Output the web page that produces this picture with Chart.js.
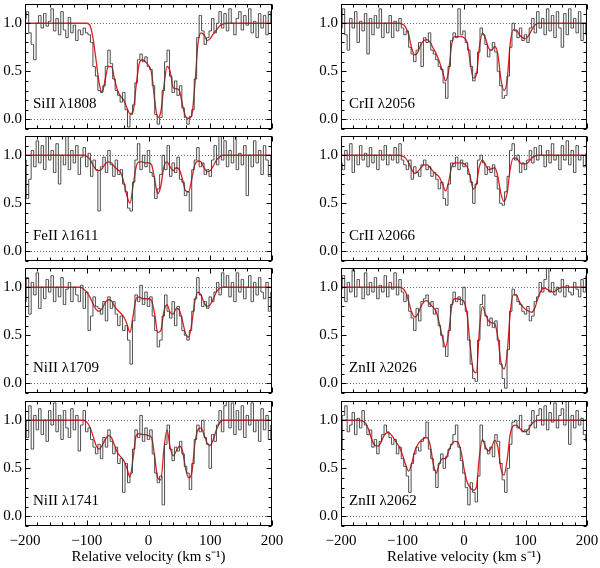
<!DOCTYPE html>
<html>
<head>
<meta charset="utf-8">
<script src="https://cdn.jsdelivr.net/npm/chart.js@4.4.0/dist/chart.umd.min.js"></script>
<style>
body { margin: 0; background: #fff; }
#wrap { position: relative; width: 600px; height: 568px; }
#wrap canvas { position: absolute; }
</style>
</head>
<body>
<div id="wrap"></div>
<script>
// pixel velocities of the spectra (km/s)
const velocity = [
  -200,-196,-192,-188,-184,-180,-176,-172,-168,-164,
  -160,-156,-152,-148,-144,-140,-136,-132,-128,-124,
  -120,-116,-112,-108,-104,-100,-96,-92,-88,-84,
  -80,-76,-72,-68,-64,-60,-56,-52,-48,-44,
  -40,-36,-32,-28,-24,-20,-16,-12,-8,-4,
  0,4,8,12,16,20,24,28,32,36,
  40,44,48,52,56,60,64,68,72,76,
  80,84,88,92,96,100,104,108,112,116,
  120,124,128,132,136,140,144,148,152,156,
  160,164,168,172,176,180,184,188,192,196,
  200
];
// velocities of the fitted profiles (km/s)
const fitVelocity = [
  -200,-195,-190,-185,-180,-175,-170,-165,-160,-155,
  -150,-145,-140,-135,-130,-125,-120,-115,-110,-105,
  -100,-95,-90,-85,-80,-75,-70,-65,-60,-55,
  -50,-45,-40,-35,-30,-25,-20,-15,-10,-5,
  0,5,10,15,20,25,30,35,40,45,
  50,55,60,65,70,75,80,85,90,95,
  100,105,110,115,120,125,130,135,140,145,
  150,155,160,165,170,175,180,185,190,195,
  200
];

// normalised flux
const fluxSiII1808 = [
  1.05,1.12,0.9,0.78,0.62,1.0,1.08,0.95,1.1,0.97,
  1.02,1.15,0.92,1.05,0.88,1.12,0.93,0.85,1.06,0.9,
  0.98,0.82,0.93,0.88,0.95,0.9,0.88,0.8,0.55,0.45,
  0.3,0.28,0.35,0.55,0.72,0.58,0.42,0.3,0.25,0.18,
  0.28,0.1,-0.08,0.05,0.15,0.38,0.62,0.68,0.6,0.65,
  0.55,0.52,0.35,0.05,-0.05,0.02,0.3,0.6,0.72,0.45,
  0.28,0.4,0.25,0.35,0.12,0.02,-0.05,0.03,0.1,0.42,
  0.85,1.08,0.92,0.78,0.85,0.92,1.05,0.9,1.0,1.12,
  0.95,1.1,0.92,1.15,1.0,0.88,1.05,1.12,0.93,1.08,
  0.98,1.15,0.9,1.02,0.85,1.1,0.95,1.08,0.88,1.12,
  1.0
];
const fluxFeII1611 = [
  0.95,0.55,0.75,1.05,0.88,1.15,0.92,1.1,0.85,1.25,
  0.95,1.05,0.82,1.12,0.7,1.0,0.9,1.22,0.85,1.05,
  0.92,1.1,0.8,0.98,1.08,0.88,1.02,0.78,0.95,0.85,
  0.42,0.88,0.98,0.82,1.05,0.9,0.78,0.95,0.8,0.85,
  0.7,0.62,0.45,0.42,0.72,0.95,1.12,0.85,1.0,0.88,
  1.05,0.82,0.78,0.55,0.65,0.8,1.0,0.85,1.1,0.78,
  0.92,0.82,0.98,0.75,0.72,0.58,0.62,0.42,0.85,0.95,
  1.08,0.88,0.92,0.8,0.85,0.78,0.95,1.1,0.9,1.22,
  0.95,1.15,0.88,1.05,0.92,1.25,0.85,1.02,0.9,1.1,
  0.58,1.0,0.88,1.15,0.92,1.05,0.8,1.1,0.95,0.78,
  1.0
];
const fluxNiII1709 = [
  0.85,1.1,0.72,1.05,0.92,1.15,0.78,1.0,0.88,1.08,
  0.95,1.12,0.85,1.0,0.9,1.1,0.82,0.98,1.05,0.85,
  1.0,0.92,0.85,1.02,0.78,0.95,0.55,0.7,0.9,0.8,
  0.78,0.72,0.85,0.65,0.9,0.78,0.85,0.72,0.6,0.7,
  0.55,0.6,0.45,0.2,0.65,0.92,0.85,1.02,0.82,0.95,
  0.8,0.9,0.7,0.55,0.38,0.45,0.7,0.92,0.75,0.68,
  0.85,0.6,0.8,0.7,0.55,0.5,0.45,0.55,0.75,0.88,
  1.1,0.92,0.8,0.85,0.78,0.9,0.85,0.95,1.05,0.92,
  1.15,1.0,1.12,0.9,1.05,0.85,1.15,0.95,1.08,0.88,
  1.0,1.12,0.85,1.05,0.92,1.1,0.95,0.88,1.05,0.75,
  0.95
];
const fluxNiII1741 = [
  1.0,0.82,1.15,0.7,1.05,0.9,1.12,0.85,1.0,0.78,
  1.1,0.95,1.18,0.88,1.05,0.8,1.1,0.92,0.82,1.12,
  0.9,1.05,0.68,0.95,1.1,0.88,0.92,0.8,0.72,0.65,
  0.75,0.6,0.82,0.72,0.9,0.78,0.65,0.72,0.55,0.6,
  0.25,0.55,0.35,0.45,0.7,0.9,0.82,1.05,0.78,0.92,
  0.8,0.9,0.65,0.45,0.35,0.42,0.12,0.75,0.95,0.7,
  0.58,0.72,0.68,0.78,0.65,0.52,0.45,0.28,0.55,0.8,
  0.95,0.88,1.0,0.82,0.75,0.5,0.85,0.78,0.95,1.1,
  0.88,1.15,1.2,0.92,1.18,0.85,1.1,0.9,1.15,0.82,
  1.05,0.95,1.18,0.88,1.0,0.78,1.12,0.9,1.05,0.8,
  0.95
];
const fluxCrII2056 = [
  0.95,1.15,0.88,0.72,1.05,0.95,1.12,0.8,1.02,0.92,
  1.1,0.68,1.05,0.88,1.08,0.95,1.15,0.85,1.0,0.9,
  1.08,0.85,1.02,0.92,1.05,0.95,0.88,0.92,0.75,0.68,
  0.6,0.72,0.8,0.55,0.85,0.8,0.9,0.72,0.68,0.62,
  0.55,0.52,0.38,0.22,0.55,0.82,0.9,0.85,1.15,0.88,
  0.92,0.8,0.72,0.55,0.4,0.48,0.7,0.95,0.88,0.78,
  0.65,0.72,0.8,0.7,0.5,0.35,0.22,0.25,0.45,0.75,
  1.0,0.92,0.85,0.95,0.82,0.88,0.8,0.95,1.05,0.9,
  1.12,0.95,1.05,0.88,1.15,0.92,1.08,0.85,1.12,0.95,
  0.75,1.1,0.88,1.15,0.95,1.05,0.9,1.12,0.82,1.0,
  0.88
];
const fluxCrII2066 = [
  0.92,0.85,1.05,0.95,1.12,0.82,1.0,0.9,1.1,0.95,
  1.02,0.88,1.08,0.92,1.0,0.85,1.05,0.95,1.1,0.9,
  1.0,0.95,1.08,0.92,1.12,0.95,0.9,0.85,0.95,0.75,
  0.88,0.82,0.78,0.9,0.95,0.85,0.88,0.78,0.82,0.75,
  0.65,0.72,0.55,0.48,0.7,0.92,0.88,0.98,0.85,0.95,
  0.88,0.92,0.8,0.72,0.5,0.7,0.95,1.0,0.92,0.8,
  0.88,0.82,0.9,0.78,0.65,0.5,0.48,0.62,0.78,1.05,
  1.12,0.95,1.0,0.82,0.92,0.85,0.95,1.05,0.92,1.08,
  0.95,1.1,1.0,0.88,1.05,0.92,1.12,0.95,1.0,0.85,
  1.1,0.95,1.15,0.9,1.05,0.82,1.1,0.95,1.0,0.88,
  1.02
];
const fluxZnII2026 = [
  0.98,1.12,0.85,1.05,0.95,1.18,0.9,1.08,1.0,0.88,
  1.15,0.92,1.05,0.95,1.1,0.88,1.02,0.95,1.12,0.9,
  1.05,0.98,1.15,0.92,1.08,0.95,0.85,0.92,0.75,0.68,
  0.55,0.78,0.65,0.85,0.88,0.92,0.8,0.85,0.72,0.78,
  0.6,0.5,0.38,0.28,0.55,0.82,0.95,0.85,0.9,0.82,
  1.0,0.75,0.45,0.2,0.05,0.02,0.45,0.82,0.92,0.7,
  0.6,0.68,0.58,0.65,0.45,0.2,0.05,-0.05,0.35,0.75,
  0.98,0.92,0.85,0.82,0.75,0.72,0.8,0.65,0.7,0.85,
  0.9,1.05,0.95,1.08,1.2,0.95,1.05,0.92,1.0,0.95,
  1.08,0.9,1.02,0.95,0.92,1.05,0.98,0.9,1.08,0.95,
  1.12
];
const fluxZnII2062 = [
  0.7,1.05,1.15,0.88,0.95,1.08,0.85,1.02,0.92,1.1,
  0.95,0.85,0.9,0.72,0.8,0.65,0.78,0.85,0.95,0.88,
  0.82,0.75,0.8,0.65,0.72,0.6,0.52,0.42,0.25,0.55,
  0.65,0.72,0.68,0.78,0.82,0.98,0.7,0.6,0.48,0.3,
  0.55,0.65,0.5,0.62,0.7,0.75,0.85,0.95,0.72,0.58,
  0.45,0.3,0.12,0.35,0.25,0.15,0.42,0.95,0.78,0.7,
  0.65,0.72,0.62,0.85,0.78,0.55,0.38,0.25,0.5,0.75,
  0.98,1.0,0.92,1.05,0.88,0.9,0.85,0.95,1.1,0.92,
  1.05,1.12,0.95,1.15,0.9,1.08,0.98,1.18,0.92,1.05,
  1.12,0.95,1.2,0.75,1.05,0.92,1.1,0.95,1.02,0.85,
  0.78
];

// fitted profiles
const fitSiII1808 = [
  1,1,1,1,1,1,1,1,1,1,
  1,1,1,1,1,1,1,1,1,1,
  1,0.98,0.85,0.62,0.38,0.28,0.42,0.55,0.55,0.42,
  0.3,0.24,0.2,0.12,0.06,0.08,0.35,0.58,0.62,0.6,
  0.56,0.48,0.2,0.02,0.08,0.35,0.55,0.5,0.33,0.32,
  0.3,0.15,0.03,0.01,0.04,0.35,0.78,0.9,0.88,0.82,
  0.84,0.89,0.93,0.97,0.99,1,1,1,1,1,
  1,1,1,1,1,1,1,1,1,1,
  1
];
const fitFeII1611 = [
  1,1,1,1,1,1,1,1,1,1,
  1,1,1,1,1,1,1,1,1,1,
  0.99,0.96,0.9,0.85,0.84,0.86,0.91,0.93,0.92,0.88,
  0.85,0.82,0.72,0.58,0.5,0.68,0.88,0.93,0.93,0.92,
  0.92,0.9,0.75,0.6,0.68,0.88,0.93,0.88,0.84,0.87,
  0.85,0.75,0.63,0.62,0.75,0.9,0.94,0.93,0.87,0.83,
  0.84,0.89,0.95,0.98,1,1,1,1,1,1,
  1,1,1,1,1,1,1,1,1,1,
  1
];
const fitNiII1709 = [
  1,1,1,1,1,1,1,1,1,1,
  1,1,1,1,1,1,1,1,1,0.98,
  0.95,0.9,0.83,0.77,0.75,0.78,0.84,0.87,0.86,0.8,
  0.76,0.73,0.69,0.62,0.53,0.7,0.88,0.9,0.88,0.88,
  0.88,0.86,0.72,0.53,0.55,0.75,0.82,0.74,0.72,0.78,
  0.76,0.65,0.52,0.48,0.62,0.85,0.95,0.92,0.84,0.8,
  0.82,0.88,0.95,0.99,1,1,1,1,1,1,
  1,1,1,1,1,1,1,1,1,1,
  1
];
const fitNiII1741 = [
  1,1,1,1,1,1,1,1,1,1,
  1,1,1,1,1,1,1,1,1,1,
  0.98,0.93,0.84,0.74,0.7,0.74,0.8,0.84,0.82,0.74,
  0.66,0.62,0.58,0.5,0.41,0.6,0.84,0.86,0.85,0.85,
  0.84,0.82,0.62,0.4,0.38,0.7,0.9,0.72,0.63,0.68,
  0.73,0.68,0.5,0.4,0.45,0.75,0.9,0.92,0.85,0.76,
  0.74,0.8,0.9,0.97,1,1,1,1,1,1,
  1,1,1,1,1,1,1,1,1,1,
  1
];
const fitCrII2056 = [
  1,1,1,1,1,1,1,1,1,1,
  1,1,1,1,1,1,1,1,1,1,
  0.99,0.96,0.88,0.74,0.67,0.7,0.78,0.82,0.83,0.8,
  0.74,0.68,0.6,0.5,0.4,0.5,0.78,0.86,0.86,0.86,
  0.85,0.8,0.6,0.43,0.46,0.75,0.9,0.84,0.74,0.72,
  0.76,0.68,0.42,0.3,0.4,0.78,0.93,0.93,0.88,0.85,
  0.84,0.87,0.93,0.98,1,1,1,1,1,1,
  1,1,1,1,1,1,1,1,1,1,
  1
];
const fitCrII2066 = [
  1,1,1,1,1,1,1,1,1,1,
  1,1,1,1,1,1,1,1,1,1,
  0.99,0.97,0.92,0.85,0.81,0.83,0.87,0.9,0.9,0.87,
  0.83,0.8,0.77,0.7,0.63,0.72,0.88,0.92,0.92,0.92,
  0.91,0.88,0.78,0.65,0.7,0.88,0.95,0.9,0.85,0.86,
  0.87,0.78,0.6,0.52,0.6,0.85,0.97,0.97,0.93,0.91,
  0.91,0.93,0.97,0.99,1,1,1,1,1,1,
  1,1,1,1,1,1,1,1,1,1,
  1
];
const fitZnII2026 = [
  1,1,1,1,1,1,1,1,1,1,
  1,1,1,1,1,1,1,1,1,1,
  0.99,0.95,0.85,0.74,0.69,0.72,0.8,0.85,0.86,0.82,
  0.79,0.74,0.62,0.48,0.38,0.52,0.8,0.88,0.88,0.87,
  0.85,0.72,0.4,0.14,0.11,0.55,0.8,0.72,0.65,0.63,
  0.62,0.48,0.22,0.15,0.3,0.72,0.92,0.92,0.85,0.8,
  0.77,0.75,0.74,0.78,0.88,0.96,0.99,0.98,0.96,0.95,
  0.97,0.99,1,1,1,1,1,1,1,1,
  1
];
const fitZnII2062 = [
  1,1,1,1,1,1,1,0.99,0.97,0.9,
  0.8,0.74,0.73,0.77,0.84,0.87,0.86,0.82,0.77,0.72,
  0.64,0.54,0.47,0.55,0.68,0.75,0.79,0.81,0.82,0.74,
  0.55,0.45,0.55,0.6,0.6,0.68,0.75,0.78,0.77,0.68,
  0.5,0.36,0.3,0.27,0.3,0.62,0.8,0.72,0.68,0.72,
  0.79,0.72,0.5,0.43,0.58,0.85,0.94,0.95,0.92,0.89,
  0.88,0.91,0.96,0.99,1,1,1,1,1,1,
  1,1,1,1,1,1,1,1,1,1,
  1
];

const transitions = ['SiII λ1808', 'FeII λ1611', 'NiII λ1709', 'NiII λ1741',
                     'CrII λ2056', 'CrII λ2066', 'ZnII λ2026', 'ZnII λ2062'];
const fluxes = [fluxSiII1808, fluxFeII1611, fluxNiII1709, fluxNiII1741,
                fluxCrII2056, fluxCrII2066, fluxZnII2026, fluxZnII2062];
const fits = [fitSiII1808, fitFeII1611, fitNiII1709, fitNiII1741,
              fitCrII2056, fitCrII2066, fitZnII2026, fitZnII2062];

// labelled ticks
const xTickValues = [-200, -100, 0, 100, 200];
const yTickValues = [0, 0.5, 1.0];

const SERIF = '"Liberation Serif", "Times New Roman", serif';
Chart.defaults.font.family = SERIF;
Chart.defaults.font.size = 15;
Chart.defaults.color = '#000';

// panel geometry
const rowTop = [4, 136, 268, 401];
const PLOT_H = 125;

// frame, inward ticks, dotted continuum/zero lines and the ion label
const framePlugin = {
  id: 'frame',
  beforeDatasetsDraw(chart) {
    const { ctx, chartArea: a, scales: { y } } = chart;
    ctx.save();
    ctx.strokeStyle = '#666';
    ctx.lineWidth = 1;
    ctx.setLineDash([1, 2]);
    [0, 1].forEach(v => {
      const py = Math.round(y.getPixelForValue(v)) + 0.5;
      ctx.beginPath();
      ctx.moveTo(a.left, py);
      ctx.lineTo(a.right, py);
      ctx.stroke();
    });
    ctx.restore();
  },
  afterDraw(chart, args, opts) {
    const { ctx, chartArea: a, scales: { x, y } } = chart;
    const l = Math.round(a.left) + 0.5, r = Math.round(a.right) - 0.5;
    const t = Math.round(a.top) + 0.5, b = Math.round(a.bottom) - 0.5;
    ctx.save();
    ctx.strokeStyle = '#000';
    ctx.lineWidth = 1;
    ctx.strokeRect(l, t, r - l, b - t);
    ctx.beginPath();
    for (let v = -200; v <= 200; v += 20) {
      const px = Math.round(x.getPixelForValue(v)) + 0.5;
      const len = v % 100 === 0 ? 5 : 3;
      ctx.moveTo(px, b); ctx.lineTo(px, b - len);
      ctx.moveTo(px, t); ctx.lineTo(px, t + len);
    }
    for (let k = -1; k <= 12; k++) {
      const py = Math.round(y.getPixelForValue(k / 10)) + 0.5;
      const len = k % 5 === 0 ? 5 : 3;
      ctx.moveTo(l, py); ctx.lineTo(l + len, py);
      ctx.moveTo(r, py); ctx.lineTo(r - len, py);
    }
    ctx.stroke();
    ctx.fillStyle = '#000';
    ctx.font = '15px ' + SERIF;
    ctx.textBaseline = 'middle';
    ctx.fillText(opts.label, a.left + 8, a.top + 100);
    ctx.restore();
  }
};

const wrap = document.getElementById('wrap');

transitions.forEach((label, i) => {
  const col = i < 4 ? 0 : 1;
  const row = i % 4;
  const bottomRow = row === 3;
  const canvas = document.createElement('canvas');
  canvas.width = 300;
  canvas.height = bottomRow ? 568 - (rowTop[row] - 4) : PLOT_H + 8;
  canvas.style.left = (col * 300) + 'px';
  canvas.style.top = (rowTop[row] - 4) + 'px';
  wrap.appendChild(canvas);

  new Chart(canvas, {
    type: 'line',
    data: {
      datasets: [
        {
          data: velocity.map((v, k) => ({ x: v, y: fluxes[i][k] })),
          stepped: 'middle',
          borderColor: '#3a3a3a',
          borderWidth: 0.9,
          pointRadius: 0,
          fill: false,
        },
        {
          data: fitVelocity.map((v, k) => ({ x: v, y: fits[i][k] })),
          cubicInterpolationMode: 'monotone',
          borderColor: '#dd2020',
          borderWidth: 1.3,
          pointRadius: 0,
          fill: false,
        },
      ],
    },
    options: {
      responsive: false,
      animation: false,
      events: [],
      layout: {
        padding: { top: 4, bottom: bottomRow ? 0 : 4, left: 0, right: col ? 13 : 28 },
      },
      plugins: {
        legend: { display: false },
        tooltip: { enabled: false },
        frame: { label: label },
      },
      scales: {
        x: {
          type: 'linear',
          min: -200,
          max: 200,
          display: bottomRow,
          grid: { display: false, drawTicks: false },
          border: { display: false },
          ticks: {
            padding: 6,
            maxRotation: 0,
            autoSkip: false,
            callback: (v) => (v < 0 ? '\u2212' + Math.abs(v) : String(v)),
          },
          title: {
            display: true,
            text: 'Relative velocity (km s\u207B\u00B9)',
            padding: { top: 0, bottom: 2 },
          },
          afterBuildTicks: (s) => { s.ticks = xTickValues.map(v => ({ value: v })); },
          afterFit: (s) => {
            s.height = bottomRow ? 42 : 0;
            s.paddingLeft = 0;
            s.paddingRight = 0;
          },
        },
        y: {
          min: -0.1,
          max: 1.2,
          grid: { display: false, drawTicks: false },
          border: { display: false },
          ticks: {
            autoSkip: false,
            padding: 3,
            callback: (v) => v.toFixed(1),
          },
          afterBuildTicks: (s) => { s.ticks = yTickValues.map(v => ({ value: v })); },
          afterFit: (s) => {
            s.width = col ? 41 : 25;
            s.paddingTop = 0;
            s.paddingBottom = 0;
          },
        },
      },
    },
    plugins: [framePlugin],
  });
});
</script>
</body>
</html>
